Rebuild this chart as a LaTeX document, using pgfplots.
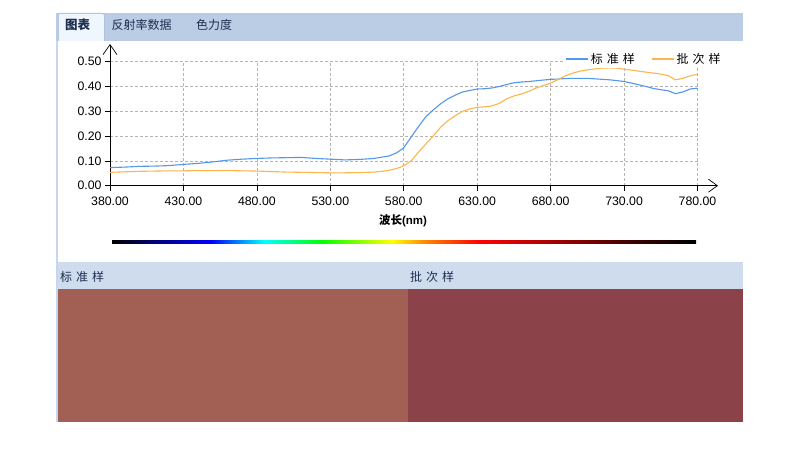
\documentclass[border=0pt]{standalone}
\usepackage{pgfplots}
\pgfplotsset{compat=1.18}
\usepackage{pgfplotstable}
\usepackage{fontspec}
\setmainfont{Liberation Sans}
\newfontfamily\cjk{Noto Sans CJK SC}
\usetikzlibrary{arrows.meta}
\definecolor{tabbar}{HTML}{BBCDE5}
\definecolor{tabsel}{HTML}{F0F6FE}
\definecolor{tabedge}{HTML}{9FB6D6}
\definecolor{panelborder}{HTML}{C6D6EC}
\definecolor{headbg}{HTML}{CFDCEE}
\definecolor{headtxt}{HTML}{1E2E50}
\definecolor{swL}{HTML}{A26055}
\definecolor{swR}{HTML}{8B4248}
\definecolor{stdblue}{HTML}{5597EA}
\definecolor{batorange}{HTML}{FDB54C}
\definecolor{gridgray}{HTML}{B4B4B4}
\definecolor{sNavy}{HTML}{00007F}
\definecolor{sBlue}{HTML}{0000FF}
\definecolor{sCyan}{HTML}{00FFFF}
\definecolor{sGreen}{HTML}{00FF00}
\definecolor{sYellow}{HTML}{FFFF00}
\definecolor{sOrange}{HTML}{FF8000}
\definecolor{sRed}{HTML}{FF0000}
\definecolor{sDark}{HTML}{9B0000}
\definecolor{sBrown}{HTML}{420000}

\pgfplotstableread{
x y
380 0.073
390 0.075
400 0.078
410 0.079
420 0.081
430 0.086
440 0.090
450 0.096
460 0.103
470 0.107
480 0.110
490 0.112
500 0.113
510 0.114
520 0.110
530 0.107
540 0.104
550 0.106
560 0.110
565 0.115
570 0.120
575 0.132
580 0.153
585 0.196
590 0.238
595 0.278
600 0.305
605 0.330
610 0.350
615 0.365
620 0.378
625 0.384
630 0.390
635 0.391
640 0.394
645 0.400
650 0.408
655 0.415
660 0.418
665 0.420
670 0.423
675 0.426
680 0.429
685 0.430
690 0.432
695 0.433
700 0.433
705 0.433
710 0.431
715 0.429
720 0.427
725 0.424
730 0.420
735 0.414
740 0.407
745 0.400
750 0.392
755 0.387
760 0.383
765 0.371
770 0.378
775 0.390
780 0.393
}\stdtable

\pgfplotstableread{
x y
380 0.054
390 0.056
400 0.058
410 0.059
420 0.060
430 0.060
440 0.061
450 0.061
460 0.061
470 0.060
480 0.059
490 0.057
500 0.055
510 0.054
520 0.053
530 0.052
540 0.052
550 0.053
560 0.055
565 0.058
570 0.062
575 0.069
580 0.080
585 0.100
590 0.135
595 0.168
600 0.200
605 0.235
610 0.262
615 0.282
620 0.300
625 0.310
630 0.316
635 0.318
640 0.322
645 0.332
650 0.350
655 0.362
660 0.370
665 0.380
670 0.394
675 0.404
680 0.414
685 0.428
690 0.443
695 0.454
700 0.462
705 0.467
710 0.471
715 0.474
720 0.475
725 0.474
730 0.470
735 0.466
740 0.462
745 0.458
750 0.454
755 0.450
760 0.444
765 0.427
770 0.433
775 0.443
780 0.449
}\battable

\begin{document}
\begin{tikzpicture}
\useasboundingbox (0,0) rectangle (800pt,451pt);
\fill[white] (0,0) rectangle (800pt,451pt);
% tab bar
\fill[tabbar] (56pt,410.3pt) rectangle (743pt,438.3pt);
\fill[white] (58pt,189pt) rectangle (743pt,410.3pt);
\fill[panelborder] (56pt,29.3pt) rectangle (58pt,410.3pt);
\draw[tabedge, fill=tabsel, rounded corners=2pt, line width=0.6pt] (58.3pt,410pt) -- (58.3pt,437.7pt) -- (104.3pt,437.7pt) -- (104.3pt,410pt);
\fill[tabsel] (58.6pt,409.5pt) rectangle (104pt,411pt);
\node[font=\cjk\bfseries\fontsize{12.5}{14}\selectfont, text=headtxt, inner sep=0pt] at (77.5pt,426.5pt) {图表};
\node[font=\cjk\fontsize{12}{14}\selectfont, text=headtxt, inner sep=0pt] at (141.7pt,426.5pt) {反射率数据};
\node[font=\cjk\fontsize{12}{14}\selectfont, text=headtxt, inner sep=0pt] at (214pt,426.5pt) {色力度};
% header band and swatches
\fill[headbg] (58pt,162pt) rectangle (743pt,189pt);
\fill[swL] (58pt,29.3pt) rectangle (408.3pt,162pt);
\fill[swR] (408.3pt,29.3pt) rectangle (743pt,162pt);
\node[font=\cjk\fontsize{12}{14}\selectfont, text=headtxt, inner sep=0pt, anchor=west] at (60pt,174.3pt) {标\hspace{4pt}准\hspace{4pt}样};
\node[font=\cjk\fontsize{12}{14}\selectfont, text=headtxt, inner sep=0pt, anchor=west] at (410pt,174.3pt) {批\hspace{4pt}次\hspace{4pt}样};
% spectrum bar
\shade[left color=black, right color=sNavy] (112pt,208pt) rectangle (157pt,211pt);
\shade[left color=sNavy, right color=sBlue] (157pt,208pt) rectangle (211pt,211pt);
\shade[left color=sBlue, right color=sCyan] (211pt,208pt) rectangle (264pt,211pt);
\shade[left color=sCyan, right color=sGreen] (264pt,208pt) rectangle (322pt,211pt);
\shade[left color=sGreen, right color=sYellow] (322pt,208pt) rectangle (392pt,211pt);
\shade[left color=sYellow, right color=sOrange] (392pt,208pt) rectangle (427pt,211pt);
\shade[left color=sOrange, right color=sRed] (427pt,208pt) rectangle (480pt,211pt);
\shade[left color=sRed, right color=sDark] (480pt,208pt) rectangle (562pt,211pt);
\shade[left color=sDark, right color=sBrown] (562pt,208pt) rectangle (626pt,211pt);
\shade[left color=sBrown, right color=black] (626pt,208pt) rectangle (696pt,211pt);
% axis
\begin{axis}[
  at={(110pt,265.3pt)}, anchor=south west,
  scale only axis, width=587.5pt, height=124pt,
  xmin=380, xmax=780, ymin=0, ymax=0.5,
  axis lines=left,
  axis line style={black, line width=0.7pt},
  x axis line style={shorten >=-20.5pt, -{Straight Barb[length=9pt, width=13pt, line width=0.7pt]}},
  y axis line style={shorten >=-17.7pt, -{Straight Barb[length=10pt, width=14pt, line width=0.7pt]}},
  xtick={380,430,...,780},
  ytick={0,0.1,0.2,0.3,0.4,0.5},
  tick align=outside, major tick length=5pt,
  tick style={black, line width=0.7pt},
  xmajorgrids, ymajorgrids,
  major grid style={gridgray, dash pattern=on 3pt off 2pt, line width=0.6pt},
  /pgf/number format/assume math mode=true,
  xticklabel style={yshift=-3pt, /pgf/number format/.cd, fixed, fixed zerofill, precision=2, /tikz/.cd},
  yticklabel style={/pgf/number format/.cd, fixed, fixed zerofill, precision=2, /tikz/.cd},
  ticklabel style={font=\fontsize{12.3}{14}\selectfont, text=black},
  legend style={at={(1.043,1.019)}, anchor=east, draw=white, fill=white, inner sep=0pt,
    font=\cjk\fontsize{12}{14}\selectfont, legend cell align=left,
    /tikz/every even column/.append style={column sep=14pt}},
  legend columns=2,
  legend image code/.code={\draw[#1] (0pt,0pt) -- (22pt,0pt);},
  clip=false,
]
\addlegendimage{stdblue, line width=1.8pt}
\addlegendentry{标\hspace{4pt}准\hspace{4pt}样}
\addlegendimage{batorange, line width=1.8pt}
\addlegendentry{批\hspace{4pt}次\hspace{4pt}样}
\addplot[stdblue, line width=1.1pt, forget plot] table[x=x, y=y] {\stdtable};
\addplot[batorange, line width=1.1pt, forget plot] table[x=x, y=y] {\battable};
\end{axis}
\node[font=\bfseries\fontsize{11.5}{13}\selectfont, inner sep=0pt] at (403pt,230.3pt) {{\cjk 波长}(nm)};
\end{tikzpicture}
\end{document}
